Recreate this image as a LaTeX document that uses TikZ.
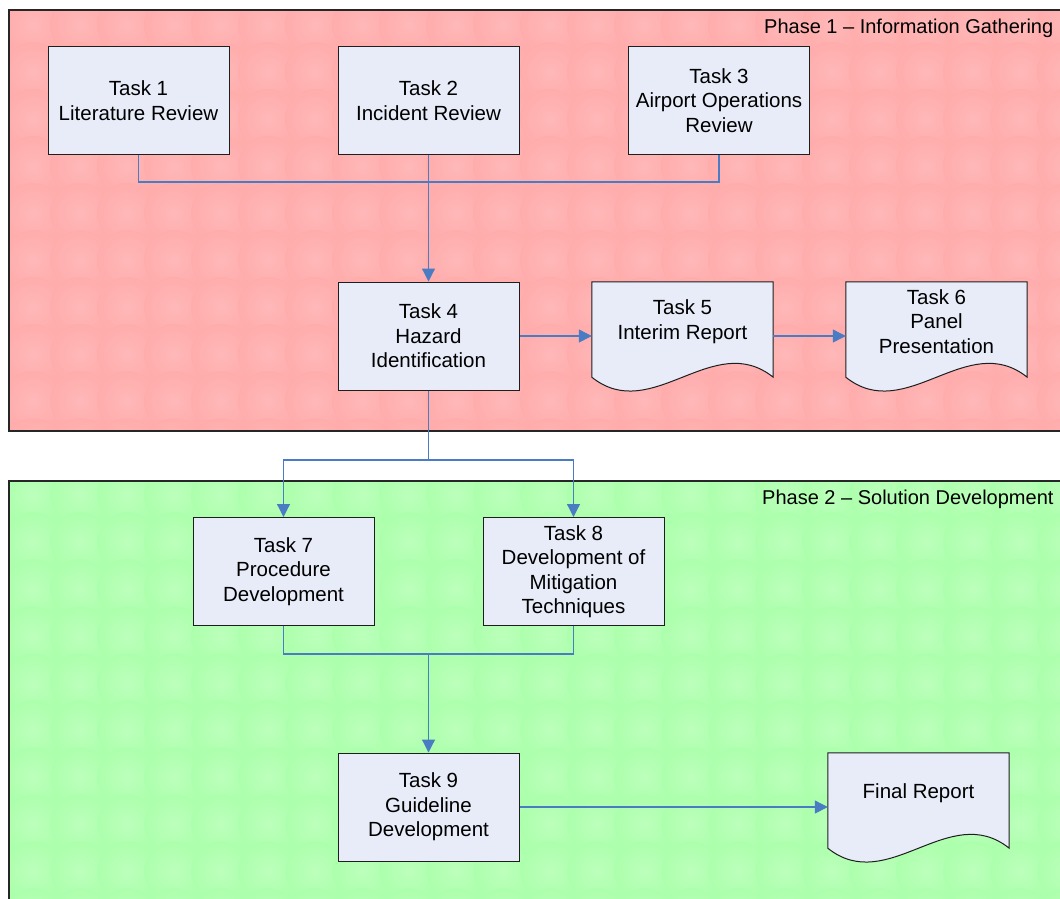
\documentclass[tikz,border=0pt]{standalone}
\usepackage{fontspec}
\setmainfont{Liberation Sans}
\usetikzlibrary{arrows.meta,calc}
\definecolor{pinkbg}{RGB}{255,172,172}
\definecolor{pinkspot}{RGB}{255,184,184}
\definecolor{greenbg}{RGB}{172,255,172}
\definecolor{greenspot}{RGB}{188,255,188}
\definecolor{boxfill}{RGB}{231,236,248}
\definecolor{boxline}{RGB}{30,30,30}
\definecolor{connblue}{RGB}{74,124,196}
\tikzset{
  taskbox/.style={draw=boxline, line width=1pt, fill=boxfill, minimum width=181pt, minimum height=108pt, inner sep=0pt, align=center, font=\fontsize{20.5pt}{24.5pt}\selectfont},
  docnode/.style={minimum width=181pt, minimum height=108pt, inner sep=0pt},
  doctext/.style={align=center, inner sep=0pt, font=\fontsize{20.5pt}{24.5pt}\selectfont},
  conn/.style={draw=connblue, line width=1.2pt},
  arr/.style={conn, -{Triangle[length=13pt,width=13pt]}, color=connblue},
  phasebox/.style={draw=black!85, line width=1.1pt},
  phaselabel/.style={anchor=base west, inner sep=0pt, font=\fontsize{20pt}{24pt}\selectfont}
}
\newcommand{\docoutline}[1]{%
  \draw[draw=boxline, line width=1pt, fill=boxfill]
    (#1.north west) -- (#1.north east) -- ($(#1.south east)+(0,-13)$)
    .. controls ($(#1.south east)+(-60,-61)$) and ($(#1.south west)+(60,35)$) .. ($(#1.south west)+(0,-13)$)
    -- cycle;}
\begin{document}
\begin{tikzpicture}[x=1pt,y=-1pt]
\useasboundingbox (0,0) rectangle (1060,898);
\begin{scope}
\clip (0,0) rectangle (1060,898);
% phase backgrounds
\fill[pinkbg] (9,10) rectangle (1100,431);
\begin{scope}
\clip (9,10) rectangle (1100,431);
\foreach \i in {0,...,23}{\foreach \j in {0,...,9}{
  \shade[inner color=pinkspot, outer color=pinkbg] (33+47*\i,25+47*\j) circle (30);
}}
\end{scope}
\draw[phasebox] (9,10) rectangle (1100,431);
\fill[greenbg] (9,481) rectangle (1100,940);
\begin{scope}
\clip (9,481) rectangle (1100,940);
\foreach \i in {0,...,23}{\foreach \j in {0,...,9}{
  \shade[inner color=greenspot, outer color=greenbg] (33+47*\i,495+47*\j) circle (30);
}}
\end{scope}
\draw[phasebox] (9,481) rectangle (1100,940);
\node[phaselabel] (p1) at (764,33) {Phase 1 – Information Gathering};
\node[phaselabel] (p2) at (762,504) {Phase 2 – Solution Development};

% task boxes
\node[taskbox] (t1) at (138.5,100.5) {Task 1\\Literature Review};
\node[taskbox] (t2) at (428.5,100.5) {Task 2\\Incident Review};
\node[taskbox] (t3) at (719,100.5) {Task 3\\Airport Operations\\Review};
\node[taskbox] (t4) at (428.5,336) {Task 4\\Hazard\\Identification};
\node[docnode] (t5) at (682.5,336) {};
\node[docnode] (t6) at (936.5,336) {};
\node[taskbox] (t7) at (283.5,571.5) {Task 7\\Procedure\\Development};
\node[taskbox] (t8) at (573.5,571.5) {Task 8\\Development of\\Mitigation\\Techniques};
\node[taskbox] (t9) at (428.5,807) {Task 9\\Guideline\\Development};
\node[docnode] (fr) at (918.5,807) {};
\docoutline{t5}
\docoutline{t6}
\docoutline{fr}
\node[doctext] (t5txt) at (682.5,321.5) {Task 5\\Interim Report};
\node[doctext] (t6txt) at (936.5,321.5) {Task 6\\Panel\\Presentation};
\node[doctext] (frtxt) at (918.5,793) {Final Report};

% connectors
\coordinate (j0) at (428.5,182);
\draw[conn] (t1.south) |- (j0) -| (t3.south);
\draw[arr] (t2.south) -- (t4.north);
\draw[arr] (t4.east) -- (t5.west);
\draw[arr] (t5.east) -- (t6.west);
\coordinate (j1) at (428.5,460);
\draw[conn] (t4.south) -- (j1);
\draw[arr] (j1) -| (t7.north);
\draw[arr] (j1) -| (t8.north);
\coordinate (j2) at (428.5,654);
\draw[conn] (t7.south) |- (j2);
\draw[conn] (t8.south) |- (j2);
\draw[arr] (j2) -- (t9.north);
\draw[arr] (t9.east) -- (fr.west);
\end{scope}
\end{tikzpicture}
\end{document}
